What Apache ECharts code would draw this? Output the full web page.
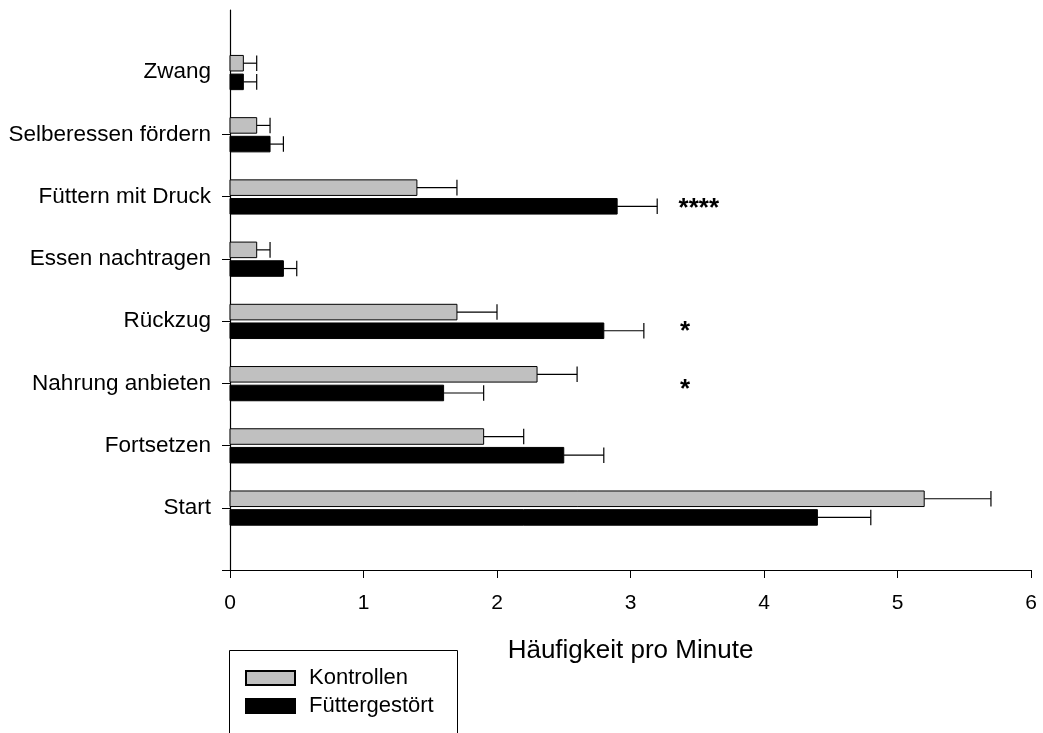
<!DOCTYPE html>
<html>
<head>
<meta charset="utf-8">
<script src="https://cdn.jsdelivr.net/npm/echarts@6/dist/echarts.min.js"></script>
<style>html,body{margin:0;padding:0;background:#fff;}#c{width:1043px;height:733px;}</style>
</head>
<body>
<div id="c"></div>
<script>
// Categories from bottom (position 1) to top (position 8)
const categories = ['Start','Fortsetzen','Nahrung anbieten','Rückzug','Essen nachtragen','Füttern mit Druck','Selberessen fördern','Zwang'];
const kontrollenMean = [5.2, 1.9, 2.3, 1.7, 0.2, 1.4, 0.2, 0.1];
const kontrollenErr  = [0.5, 0.3, 0.3, 0.3, 0.1, 0.3, 0.1, 0.1];
const gestoertMean   = [4.4, 2.5, 1.6, 2.8, 0.4, 2.9, 0.3, 0.1];
const gestoertErr    = [0.4, 0.3, 0.3, 0.3, 0.1, 0.3, 0.1, 0.1];
const xTicks = [0,1,2,3,4,5,6];
const annText = ['****','*','*'];
const annX = [3.36, 3.37, 3.37];
const annY = [5.8, 3.82, 2.9];
const seriesNames = ['Kontrollen','Füttergestört'];
const axisTitle = 'Häufigkeit pro Minute';

const FONT = 'Liberation Sans, Arial, Helvetica, sans-serif';

function mkData(means, errs){
  return means.map((m,i)=>[m, i+1, errs[i]]);
}
function barRenderer(isGray){
  return function(params, api){
    const val = api.value(0), pos = api.value(1), err = api.value(2);
    const c0 = api.coord([0,pos]);
    const c1 = api.coord([val,pos]);
    const c2 = api.coord([val+err,pos]);
    const band = api.size([0,1])[1];
    const h = band*0.25;
    const top = isGray ? c0[1] - band*0.27 : c0[1] + band*0.03;
    const mid = top + h/2;
    return {
      type:'group',
      children:[
        {type:'line', shape:{x1:c1[0], y1:mid, x2:c2[0], y2:mid}, style:{stroke:'#000', lineWidth:1.2}},
        {type:'line', shape:{x1:c2[0], y1:top, x2:c2[0], y2:top+h}, style:{stroke:'#000', lineWidth:1.2}},
        {type:'rect', shape:{x:c0[0], y:top, width:c1[0]-c0[0], height:h},
         style: isGray ? {fill:'#c0c0c0', stroke:'#000', lineWidth:1} : {fill:'#000', stroke:'#000', lineWidth:1}}
      ]
    };
  };
}

const chart = echarts.init(document.getElementById('c'), null, {renderer:'canvas'});
chart.setOption({
  backgroundColor:'#fff',
  animation:false,
  grid:{left:230, right:12, top:10, bottom:163, containLabel:false},
  xAxis:{
    type:'value', min:0, max:6, interval:1,
    axisLine:{show:true, lineStyle:{color:'#000', width:1.2}},
    axisTick:{show:true, length:8, lineStyle:{color:'#000', width:1}},
    axisLabel:{color:'#000', fontSize:21, fontFamily:FONT, margin:23,
      customValues: xTicks},
    splitLine:{show:false},
    name: axisTitle, nameLocation:'middle', nameGap:68,
    nameTextStyle:{color:'#000', fontSize:26, fontFamily:FONT}
  },
  yAxis:{
    type:'value', min:0, max:9, interval:1,
    axisLine:{show:true, lineStyle:{color:'#000', width:1.2}},
    axisTick:{show:true, length:8, lineStyle:{color:'#000', width:1},
      customValues: categories.map((c,i)=>i)},
    axisLabel:{color:'#000', fontSize:22.5, fontFamily:FONT, margin:19,
      customValues: categories.map((c,i)=>i+1),
      formatter: v => categories[Math.round(v)-1] || ''},
    splitLine:{show:false}
  },
  graphic:[
    {type:'rect', left:229, top:650, silent:true, z:-1,
     shape:{x:0, y:0, width:228, height:120},
     style:{fill:'#fff', stroke:'#000', lineWidth:1}}
  ],
  legend:{
    data: seriesNames,
    orient:'vertical', left:245, top:667,
    itemWidth:49, itemHeight:14, itemGap:6,
    icon:'rect',
    padding:0,
    textStyle:{color:'#000', fontSize:22, fontFamily:FONT, padding:[0,0,0,9]}
  },
  series:[
    {name:seriesNames[0], type:'custom', renderItem:barRenderer(true),
     itemStyle:{color:'#c0c0c0', borderColor:'#000', borderWidth:1},
     encode:{x:0, y:1}, data: mkData(kontrollenMean, kontrollenErr)},
    {name:seriesNames[1], type:'custom', renderItem:barRenderer(false),
     itemStyle:{color:'#000', borderColor:'#000', borderWidth:1},
     encode:{x:0, y:1}, data: mkData(gestoertMean, gestoertErr)},
    {name:'sig', type:'custom', silent:true,
     encode:{x:0, y:1},
     data: annText.map((t,i)=>[annX[i], annY[i], t]),
     renderItem:function(params, api){
       const p = api.coord([api.value(0), api.value(1)]);
       return {type:'text', style:{text: annText[params.dataIndex], x:p[0], y:p[1],
         fill:'#000', fontSize:26, fontWeight:'bold', fontFamily:FONT, align:'left', verticalAlign:'middle'}};
     }}
  ]
});
</script>
</body>
</html>
